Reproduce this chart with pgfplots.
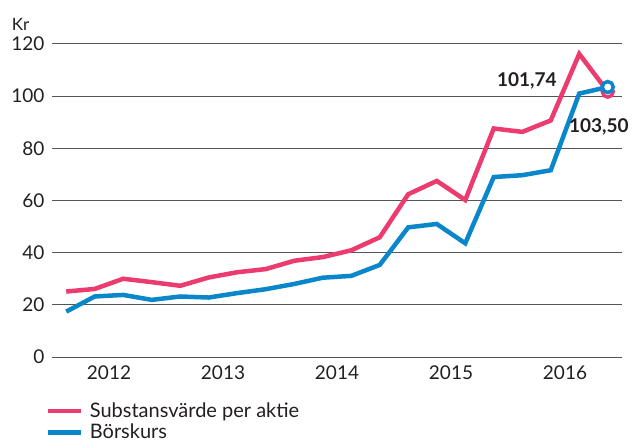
\documentclass[border=0pt]{standalone}
\usepackage{pgfplots}
\pgfplotsset{compat=1.18}
\usepackage{fontspec}
\setmainfont{Lato}
\definecolor{pinkc}{HTML}{EC3B6E}
\definecolor{bluec}{HTML}{0A87CB}
\definecolor{gridc}{HTML}{555555}
\definecolor{txt}{HTML}{231F20}
\begin{document}
\begin{tikzpicture}
\begin{axis}[
  scale only axis, width=570pt, height=313pt,
  xmin=-0.5, xmax=19.5, ymin=0, ymax=120,
  ytick={0,20,...,120},
  xtick={1.5,5.5,9.5,13.5,17.5},
  xticklabels={2012,2013,2014,2015,2016},
  ymajorgrids, xmajorgrids=false,
  major grid style={draw=gridc, line width=1pt},
  axis line style={draw=none},
  major tick length=0pt,
  tick label style={font=\fontsize{19}{21}\selectfont, text=txt},
  /pgf/number format/assume math mode=true,
  yticklabel style={xshift=-4pt},
  xticklabel style={yshift=-5pt},
  clip=false,
  legend style={at={(-0.012,-0.14)}, anchor=north west, draw=none, fill=none,
    font=\fontsize{20}{22}\selectfont, text=txt, inner sep=0pt, row sep=1pt,
    cells={anchor=west}},
  legend image code/.code={\draw[line width=4.5pt] (0pt,0pt) -- (33pt,0pt); \path (38pt,0pt);},
]
\addplot[pinkc, line width=4.5pt, line join=miter, mark=*, mark indices={20},
  mark size=5.5pt, mark options={fill=white, draw=pinkc, line width=3.5pt}]
  coordinates {(0,25.1) (1,26.1) (2,30.0) (3,28.7) (4,27.3) (5,30.5) (6,32.5) (7,33.7)
  (8,36.9) (9,38.3) (10,40.9) (11,45.9) (12,62.4) (13,67.5) (14,60.2) (15,87.6)
  (16,86.3) (17,90.7) (18,116.2) (19,101.74)};
\addlegendentry{Substansvärde per aktie}
\addplot[bluec, line width=4.5pt, line join=miter, mark=*, mark indices={20},
  mark size=5.5pt, mark options={fill=white, draw=bluec, line width=3.5pt}]
  coordinates {(0,17.4) (1,23.2) (2,23.8) (3,21.9) (4,23.2) (5,22.8) (6,24.5) (7,26.0)
  (8,28.0) (9,30.4) (10,31.1) (11,35.3) (12,49.7) (13,51.0) (14,43.6) (15,69.0)
  (16,69.7) (17,71.6) (18,101.0) (19,103.5)};
\addlegendentry{Börskurs}
\node[font=\fontsize{19}{21}\selectfont\bfseries, text=txt] at (axis cs:16.16,106) {101,74};
\node[font=\fontsize{19}{21}\selectfont\bfseries, text=txt] at (axis cs:18.69,88.1) {103,50};
\node[font=\fontsize{17}{19}\selectfont, text=txt] at (axis cs:-1.6,127.5) {Kr};
\end{axis}
\pgfresetboundingbox
\path[use as bounding box] (-52pt,-85pt) rectangle (580pt,357pt);
\end{tikzpicture}
\end{document}
